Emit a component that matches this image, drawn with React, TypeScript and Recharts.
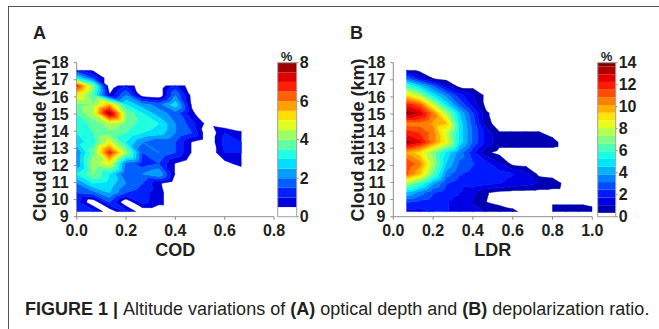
import React from "react";
import { ScatterChart, Scatter, XAxis, YAxis, BarChart, Bar } from "recharts";

// altitude bins (km), bottom -> top, shared by both panels
const altitudeKm = [9.3, 9.85, 10.4, 10.95, 11.5, 12.1, 12.75, 13.35, 13.9, 14.45, 15.05, 15.55, 16.1, 16.65, 17.1, 17.55];

// COD bins and frequency (%) per altitude row
const codBins = [0, 0.067, 0.133, 0.2, 0.267, 0.333, 0.4, 0.467, 0.533, 0.6, 0.667];
const codFreq: (number | null)[][] = [
  [1.0, 1.2, 0, 1.2, 0, 0, 0, 0, 0, 0, 0],
  [1.2, 0, 1.5, 0, 1.2, 0.7, 0, 0, 0, 0, 0],
  [1.5, 1.8, 2.5, 1.5, 1.2, 0.7, 0, 0, 0, 0, 0],
  [2, 3, 2.8, 2, 1.5, 0.6, 0, 0, 0, 0, 0],
  [3, 4, 3, 1.5, 2, 2.5, 0.45, 0, 0, 0, 0],
  [2, 4.3, 4.8, 1.8, 1.2, 1.5, 0.45, 0, 0, 0.3, 0.7],
  [2, 3.8, 6.8, 4.2, 1.5, 2, 1.5, 0.45, 0, 1.0, 1.0],
  [2.8, 3.2, 4.8, 3, 2, 1.5, 1.5, 0.45, 0, 1.2, 1.0],
  [3, 3.5, 3.8, 3.5, 3, 2.8, 2, 1.5, 0, 1.0, 0.6],
  [3.3, 3.6, 4.5, 3.8, 3.3, 3, 2, 1.2, 0.25, 0, 0],
  [3.5, 4.5, 7.8, 4, 3, 2.2, 1.8, 0.6, 0, 0, 0],
  [3.8, 4, 5.5, 3, 2.2, 1.8, 2.8, 0.4, 0, 0, 0],
  [5, 3.5, 0.55, 2.0, 0.2, 0, 2.0, 0.3, 0, 0, 0],
  [6.7, 4, 0, 1.0, 0, 0, 1.2, 0, 0, 0, 0],
  [3, 1.5, 0, null, null, null, null, null, null, null, null],
  [1.2, 0.4, 0, null, null, null, null, null, null, null, null],
];

// LDR bins and frequency (%) per altitude row
const ldrBins = [0.067, 0.133, 0.2, 0.267, 0.333, 0.4, 0.467, 0.533, 0.6, 0.667, 0.733, 0.8, 0.867, 0.933, 1.0];
const ldrFreq: (number | null)[][] = [
  [1.5, 1.5, 1.8, 1.8, 1.5, 1.3, 1.0, 0.8, 0.5, 0.1, null, 0.6, 0.6, 0.6, 0.6],
  [2.5, 2.2, 2, 1.8, 1.5, 1.0, 0.35, 0.1, 0, 0, null, 0.25, 0.25, 0.25, 0.1],
  [4.5, 3.5, 2.5, 2, 1.8, 1.2, 0.4, 0.1, 0, 0, 0, 0, 0, 0, 0],
  [7.5, 6, 4, 2.5, 2, 2.2, 2, 1.8, 1.5, 1.3, 1, 0.8, 0.1, 0, 0],
  [11, 9.5, 6.5, 3.5, 2.5, 2.2, 2, 2, 1.8, 1.3, 0.1, 0, 0, 0, 0],
  [11.5, 10.5, 7.5, 4.5, 3, 2.5, 2, 1.2, 0.1, 0, 0, 0, 0, 0, 0],
  [10, 9, 7, 5, 3.5, 2, 0.5, 0.1, 0.1, 0.1, 0.1, 0.1, 0, 0, 0],
  [13.5, 12.5, 10.5, 8.5, 5, 3, 1.5, 0.6, 0.6, 0.6, 0.6, 0.6, 0, 0, 0],
  [12, 11.5, 10.5, 8, 5, 3, 1.5, 0.4, 0.4, 0.4, 0.4, 0.1, 0, 0, 0],
  [10.5, 10.5, 10, 9.5, 5, 2.8, 0.6, 0, 0, 0, 0, 0, 0, 0, 0],
  [13.8, 12.8, 10.5, 7.5, 4.5, 2.5, 0.45, 0, 0, 0, 0, 0, 0, 0, 0],
  [12, 11, 8, 5, 3, 1.5, 0.1, 0, 0, 0, 0, 0, 0, 0, 0],
  [9, 7.5, 5, 3.5, 2, 1.2, 0.1, 0, 0, 0, 0, 0, 0, 0, 0],
  [6, 4.5, 3, 1.2, 0, 0, 0, 0, 0, 0, 0, 0, 0, 0, 0],
  [3, 1.5, 0.25, 0, 0, 0, 0, 0, 0, 0, 0, 0, 0, 0, 0],
  [0.9, 0.1, 0, 0, 0, 0, 0, 0, 0, 0, 0, 0, 0, 0, 0],
];

const altTicks = [9, 10, 11, 12, 13, 14, 15, 16, 17, 18];
const codTicks = [0, 0.2, 0.4, 0.6, 0.8];
const ldrTicks = [0, 0.2, 0.4, 0.6, 0.8, 1.0];
const codScaleTicks = [0, 2, 4, 6, 8];
const ldrScaleTicks = [0, 2, 4, 6, 8, 10, 12, 14];

const FONT = '"Liberation Sans", Arial, sans-serif';
const INK = "#231f20";
const AXIS = "#8c8c8c";
const tickStyle = { fill: INK, fontSize: 16, fontWeight: 700, fontFamily: FONT };

function jet(t: number) {
  const c = (v: number) => Math.round(255 * Math.min(1, Math.max(0, v)));
  return `rgb(${c(1.5 - Math.abs(4 * t - 3))},${c(1.5 - Math.abs(4 * t - 2))},${c(1.5 - Math.abs(4 * t - 1))})`;
}

function makeLevels(first: number, step: number, max: number) {
  const out: number[] = [];
  for (let v = first; v < max - 1e-9; v += step) out.push(+v.toFixed(4));
  return out;
}

type Pt = { x: number; y: number; v: number };

function clipBy(poly: Pt[], level: number, above: boolean) {
  const out: Pt[] = [];
  const inside = (p: Pt) => (above ? p.v >= level : p.v <= level);
  for (let i = 0; i < poly.length; i++) {
    const a = poly[i];
    const b = poly[(i + 1) % poly.length];
    const ia = inside(a);
    const ib = inside(b);
    if (ia) out.push(a);
    if (ia !== ib) {
      const t = (level - a.v) / (b.v - a.v);
      out.push({ x: a.x + t * (b.x - a.x), y: a.y + t * (b.y - a.y), v: level });
    }
  }
  return out;
}

// filled contour bands from a rectilinear grid (triangle split, linear interpolation)
function buildBands(xs: number[], ys: number[], grid: (number | null)[][], levels: number[], max: number) {
  const step = levels[1] - levels[0];
  const bands = levels.map((lo, k) => {
    const hi = k < levels.length - 1 ? levels[k + 1] : Infinity;
    const mid = hi === Infinity ? Math.min(lo + step / 2, max) : (lo + hi) / 2;
    return { lo, hi, color: jet(mid / max), pts: [] as { x: number; y: number }[], lens: [] as number[] };
  });
  for (let j = 0; j < ys.length - 1; j++) {
    for (let i = 0; i < xs.length - 1; i++) {
      const va = grid[j][i], vb = grid[j][i + 1], vc = grid[j + 1][i + 1], vd = grid[j + 1][i];
      if (va == null || vb == null || vc == null || vd == null) continue;
      const A = { x: xs[i], y: ys[j], v: va };
      const B = { x: xs[i + 1], y: ys[j], v: vb };
      const C = { x: xs[i + 1], y: ys[j + 1], v: vc };
      const D = { x: xs[i], y: ys[j + 1], v: vd };
      for (const tri of [[A, B, D], [B, C, D]]) {
        for (const band of bands) {
          let poly = clipBy(tri, band.lo, true);
          if (poly.length < 3) continue;
          if (band.hi !== Infinity) poly = clipBy(poly, band.hi, false);
          if (poly.length < 3) continue;
          band.lens.push(poly.length);
          poly.forEach((p) => band.pts.push({ x: p.x, y: p.y }));
        }
      }
    }
  }
  return bands.filter((b) => b.lens.length > 0);
}

function BandShapes(props: any) {
  const { points, lens, color } = props;
  if (!points || !points.length) return null;
  let d = "";
  let k = 0;
  for (const n of lens) {
    const seg = points.slice(k, k + n);
    k += n;
    d += "M" + seg.map((p: any) => `${p.x},${p.y}`).join("L") + "Z";
  }
  return <path d={d} fill={color} stroke={color} strokeWidth={0.5} strokeLinejoin="round" />;
}

function ContourPanel(props: {
  left: number;
  width: number;
  xs: number[];
  grid: (number | null)[][];
  levels: number[];
  max: number;
  xMax: number;
  xTicks: number[];
  marginLeft: number;
  marginRight: number;
}) {
  const bands = buildBands(props.xs, altitudeKm, props.grid, props.levels, props.max);
  return (
    <div style={{ position: "absolute", left: props.left, top: 0 }}>
      <ScatterChart
        width={props.width}
        height={260}
        margin={{ top: 62.7, right: props.marginRight, bottom: 13.3, left: props.marginLeft }}
      >
        <XAxis
          type="number"
          dataKey="x"
          domain={[0, props.xMax]}
          ticks={props.xTicks}
          interval={0}
          allowDataOverflow
          tickFormatter={(v: number) => v.toFixed(1)}
          tick={tickStyle}
          tickSize={3}
          tickMargin={5}
          height={30}
          axisLine={{ stroke: AXIS }}
          tickLine={{ stroke: AXIS }}
        />
        <YAxis
          type="number"
          dataKey="y"
          domain={[9, 18]}
          ticks={altTicks}
          interval={0}
          allowDataOverflow
          tick={tickStyle}
          tickSize={3}
          tickMargin={5}
          width={60}
          axisLine={{ stroke: AXIS }}
          tickLine={{ stroke: AXIS }}
        />
        {bands.map((b, k) => (
          <Scatter
            key={k}
            data={b.pts}
            fill={b.color}
            isAnimationActive={false}
            shape={() => <g />}
            line={<BandShapes lens={b.lens} color={b.color} />}
          />
        ))}
      </ScatterChart>
    </div>
  );
}

function ColorScale(props: { left: number; levels: number[]; max: number; ticks: number[]; marginRight: number }) {
  const { levels, max } = props;
  const step = levels[1] - levels[0];
  const row: Record<string, number | string> = { name: "%", w: levels[0] };
  const keys: string[] = [];
  const colors: string[] = [];
  levels.forEach((lo, k) => {
    const hi = k < levels.length - 1 ? levels[k + 1] : max;
    const mid = k < levels.length - 1 ? (lo + hi) / 2 : Math.min(lo + step / 2, max);
    row["b" + k] = hi - lo;
    keys.push("b" + k);
    colors.push(jet(mid / max));
  });
  return (
    <div style={{ position: "absolute", left: props.left, top: 0 }}>
      <BarChart
        width={50}
        height={260}
        data={[row]}
        margin={{ top: 62.7, right: props.marginRight, bottom: 43.3, left: 7.7 }}
        barCategoryGap={0}
      >
        <XAxis dataKey="name" hide />
        <YAxis
          orientation="right"
          type="number"
          domain={[0, max]}
          ticks={props.ticks}
          interval={0}
          width={20}
          axisLine={false}
          tickLine={{ stroke: AXIS }}
          tickSize={2}
          tickMargin={1}
          tick={tickStyle}
        />
        <Bar dataKey="w" stackId="s" fill="#ffffff" isAnimationActive={false} />
        {keys.map((k, i) => (
          <Bar key={k} dataKey={k} stackId="s" fill={colors[i]} isAnimationActive={false} />
        ))}
      </BarChart>
    </div>
  );
}

export default function App() {
  const codLevels = makeLevels(0.5, 0.5, 8);
  const ldrLevels = makeLevels(0.35, 0.7, 14);
  const title = { fill: INK, fontFamily: FONT, fontWeight: 700 } as const;
  return (
    <div style={{ position: "relative", width: 659, height: 329, background: "#fff", overflow: "hidden" }}>
      <style>{"body{margin:0}"}</style>
      <ContourPanel
        left={0}
        width={330}
        xs={codBins}
        grid={codFreq}
        levels={codLevels}
        max={8}
        xMax={0.8}
        xTicks={codTicks}
        marginLeft={16.7}
        marginRight={56}
      />
      <ContourPanel
        left={330}
        width={329}
        xs={ldrBins}
        grid={ldrFreq}
        levels={ldrLevels}
        max={14}
        xMax={1.0}
        xTicks={ldrTicks}
        marginLeft={3.3}
        marginRight={66.7}
      />
      <ColorScale left={270} levels={codLevels} max={8} ticks={codScaleTicks} marginRight={3.3} />
      <ColorScale left={590} levels={ldrLevels} max={14} ticks={ldrScaleTicks} marginRight={4.3} />
      <svg
        width={659}
        height={329}
        style={{ position: "absolute", left: 0, top: 0, pointerEvents: "none" }}
      >
        <line x1={8} y1={6.5} x2={659} y2={6.5} stroke="#555" strokeWidth={1} />
        <line x1={8.5} y1={6} x2={8.5} y2={329} stroke="#555" strokeWidth={1} />
        <text x={33} y={39} fontSize={18} {...title}>A</text>
        <text x={350} y={39} fontSize={18} {...title}>B</text>
        <text transform="translate(40,140) rotate(-90)" textAnchor="middle" dominantBaseline="central" fontSize={18} {...title}>
          Cloud altitude (km)
        </text>
        <text transform="translate(357.5,140) rotate(-90)" textAnchor="middle" dominantBaseline="central" fontSize={18} {...title}>
          Cloud altitude (km)
        </text>
        <text x={175.3} y={256} textAnchor="middle" fontSize={18} {...title}>COD</text>
        <text x={492.8} y={256} textAnchor="middle" fontSize={18} {...title}>LDR</text>
        <rect x={277.7} y={62.7} width={19} height={154} fill="none" stroke="#a0a0a0" strokeWidth={1} />
        <rect x={597.7} y={62.7} width={18} height={154} fill="none" stroke="#a0a0a0" strokeWidth={1} />
        <text x={286.5} y={61} textAnchor="middle" fontSize={13} {...title}>%</text>
        <text x={606.5} y={61} textAnchor="middle" fontSize={13} {...title}>%</text>
        <text x={25} y={315} fontSize={18} fontFamily={FONT} fill={INK}>
          <tspan fontWeight={700}>FIGURE 1 | </tspan>
          <tspan>Altitude variations of </tspan>
          <tspan fontWeight={700}>(A)</tspan>
          <tspan> optical depth and </tspan>
          <tspan fontWeight={700}>(B)</tspan>
          <tspan> depolarization ratio.</tspan>
        </text>
      </svg>
    </div>
  );
}
